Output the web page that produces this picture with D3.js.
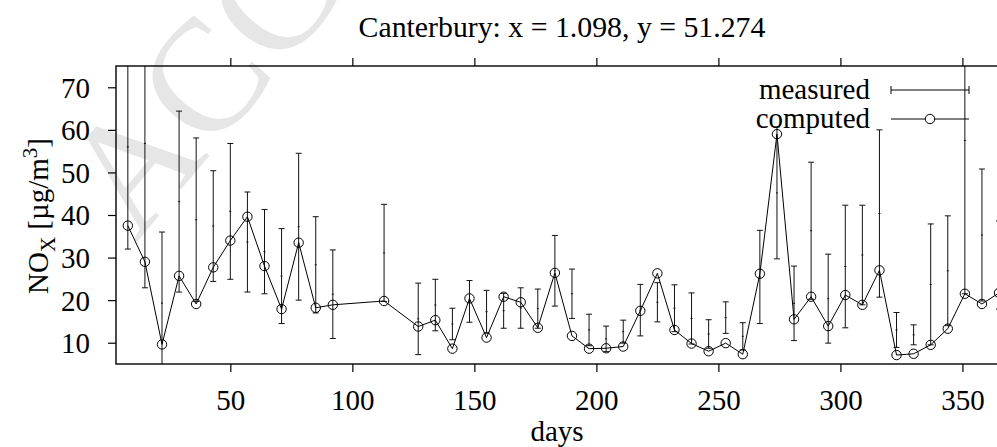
<!DOCTYPE html>
<html>
<head>
<meta charset="utf-8">
<script src="https://cdn.jsdelivr.net/npm/d3@7"></script>
<style>
html, body { margin: 0; padding: 0; background: #fff; overflow: hidden; }
svg { display: block; font-family: "Liberation Serif", "Times New Roman", serif; }
</style>
</head>
<body>
<div id="chart"></div>
<script>
// weekly samples (day of year)
const days = [8, 15, 22, 29, 36, 43, 50, 57, 64, 71, 78, 85, 92, 113, 127, 134, 141,
    148, 155, 162, 169, 176, 183, 190, 197, 204, 211, 218, 225, 232, 239, 246, 253,
    260, 267, 274, 281, 288, 295, 302, 309, 316, 323, 330, 337, 344, 351, 358, 365];

const computed = [37.5, 29.0, 9.6, 25.7, 19.1, 27.7, 34.0, 39.6, 28.0, 17.9, 33.5, 18.2,
    18.9, 19.8, 13.8, 15.3, 8.6, 20.4, 11.2, 20.8, 19.5, 13.5, 26.4, 11.6, 8.6, 8.7, 9.1,
    17.5, 26.3, 13.0, 9.8, 8.0, 9.9, 7.3, 26.2, 59.0, 15.5, 20.8, 13.9, 21.2, 18.9, 27.0,
    7.1, 7.4, 9.5, 13.3, 21.5, 19.1, 21.7];

const measuredLow = [32.0, 22.9, 2.6, 21.9, 19.7, 24.4, 24.9, 21.9, 21.5, 14.5, 20.0, 17.0,
    11.0, 19.7, 7.2, 12.8, 10.7, 14.8, 12.3, 13.4, 13.4, 13.4, 18.6, 15.7, 9.3, 7.9, 9.9,
    11.6, 14.9, 12.6, 9.7, 8.7, 12.2, 8.3, 14.5, 29.7, 10.5, 20.2, 9.9, 13.5, 18.9, 20.7,
    8.9, 9.5, 9.5, 14.0, 21.5, 19.8, 17.9];

const measuredHigh = [80.0, 90.7, 36.0, 64.4, 58.1, 50.4, 56.8, 45.4, 41.3, 36.8, 54.5, 39.6,
    31.8, 42.5, 24.0, 24.9, 18.1, 24.6, 22.3, 21.6, 22.9, 22.6, 35.2, 27.3, 16.7, 13.9, 15.3,
    23.7, 24.1, 23.6, 21.7, 15.4, 19.6, 14.7, 36.4, 60.7, 28.0, 52.4, 30.8, 42.3, 42.3, 60.0,
    17.1, 14.2, 37.9, 39.8, 93.5, 50.8, 38.6];

const xTicks = [50, 100, 150, 200, 250, 300, 350];
const yTicks = [10, 20, 30, 40, 50, 60, 70];
const title = 'Canterbury: x = 1.098, y = 51.274';
const xLabel = 'days';
const legendLabels = ['measured', 'computed'];

const width = 997, height = 447;
const plot = {left: 116, top: 66, right: 1000, bottom: 364};
const fontSize = 29;

const rows = days.map((d, i) => ({
    day: d, computed: computed[i], lo: measuredLow[i], hi: measuredHigh[i],
    mean: (measuredLow[i] + measuredHigh[i]) / 2
}));

const x = d3.scaleLinear().domain([3.15, 365.4]).range([plot.left, plot.right]);
const y = d3.scaleLinear().domain([5, 75]).range([plot.bottom, plot.top]);

const svg = d3.select('#chart').append('svg')
    .attr('width', width)
    .attr('height', height)
    .style('overflow', 'hidden');

svg.append('defs').append('clipPath')
    .attr('id', 'plot-clip')
    .append('rect')
    .attr('x', plot.left)
    .attr('y', plot.top)
    .attr('width', plot.right - plot.left)
    .attr('height', plot.bottom - plot.top);

// faint page watermark behind everything
svg.append('text')
    .attr('transform', 'translate(136,243) rotate(-50)')
    .attr('font-size', 160)
    .attr('fill', '#e6e6e6')
    .text('ACCEPTED MANUSCRIPT');

// title
svg.append('text')
    .attr('x', 562)
    .attr('y', 37)
    .attr('text-anchor', 'middle')
    .attr('font-size', 29.8)
    .text(title);

// axes: ticks pointing outwards, mirrored on top
const yAxis = d3.axisLeft(y).tickValues(yTicks).tickSize(8).tickPadding(18);
const xAxis = d3.axisBottom(x).tickValues(xTicks).tickSize(8).tickPadding(18);
const xTop = d3.axisTop(x).tickValues(xTicks).tickSize(8).tickFormat('');

const gy = svg.append('g').attr('transform', `translate(${plot.left},0)`).call(yAxis);
const gx = svg.append('g').attr('transform', `translate(0,${plot.bottom})`).call(xAxis);
const gt = svg.append('g').attr('transform', `translate(0,${plot.top})`).call(xTop);

[gy, gx, gt].forEach(g => {
    g.select('.domain').remove();
    g.selectAll('.tick line').attr('stroke', '#000').attr('stroke-width', 1.2);
    g.selectAll('.tick text')
        .attr('font-size', fontSize)
        .attr('font-family', '"Liberation Serif", serif')
        .attr('fill', '#000');
});
gy.selectAll('.tick text').attr('dy', '0.34em');
gx.selectAll('.tick text').attr('dy', '0.69em');

// x label
svg.append('text')
    .attr('x', 557)
    .attr('y', 441)
    .attr('text-anchor', 'middle')
    .attr('font-size', fontSize)
    .text(xLabel);

// y label: NO_X [µg/m^3]
const ylab = svg.append('text')
    .attr('transform', 'translate(48,216) rotate(-90)')
    .attr('text-anchor', 'middle')
    .attr('font-size', fontSize);
ylab.append('tspan').text('NO');
ylab.append('tspan').attr('font-size', 21).attr('dy', 7).text('X');
ylab.append('tspan').attr('dy', -7).text(' [µg/m');
ylab.append('tspan').attr('font-size', 21).attr('dy', -11).text('3');
ylab.append('tspan').attr('dy', 11).text(']');

const body = svg.append('g').attr('clip-path', 'url(#plot-clip)');

// measured error bars
const cap = 3;
const bars = body.append('g')
    .attr('stroke', '#111')
    .attr('stroke-width', 1)
    .selectAll('g')
    .data(rows)
    .join('g');

bars.append('line')
    .attr('x1', d => x(d.day)).attr('x2', d => x(d.day))
    .attr('y1', d => y(d.lo)).attr('y2', d => y(d.hi));
bars.append('line')
    .attr('x1', d => x(d.day) - cap).attr('x2', d => x(d.day) + cap)
    .attr('y1', d => y(d.lo)).attr('y2', d => y(d.lo));
bars.append('line')
    .attr('x1', d => x(d.day) - cap).attr('x2', d => x(d.day) + cap)
    .attr('y1', d => y(d.hi)).attr('y2', d => y(d.hi));
// tiny mark at the measured value
bars.append('line')
    .attr('x1', d => x(d.day) - 1).attr('x2', d => x(d.day) + 1)
    .attr('y1', d => y(d.mean)).attr('y2', d => y(d.mean));

// computed line with open circles
const line = d3.line().x(d => x(d.day)).y(d => y(d.computed));
body.append('path')
    .datum(rows)
    .attr('fill', 'none')
    .attr('stroke', '#000')
    .attr('stroke-width', 1)
    .attr('d', line);

body.append('g')
    .selectAll('circle')
    .data(rows)
    .join('circle')
    .attr('cx', d => x(d.day))
    .attr('cy', d => y(d.computed))
    .attr('r', 4.7)
    .attr('fill', 'none')
    .attr('stroke', '#000')
    .attr('stroke-width', 1);

// frame
svg.append('rect')
    .attr('x', plot.left)
    .attr('y', plot.top)
    .attr('width', plot.right - plot.left)
    .attr('height', plot.bottom - plot.top)
    .attr('fill', 'none')
    .attr('stroke', '#000')
    .attr('stroke-width', 1.4);

// legend
const legend = svg.append('g');
const lx1 = 891, lx2 = 969;
legend.selectAll('text')
    .data(legendLabels)
    .join('text')
    .attr('x', 870)
    .attr('y', (d, i) => 99 + i * 29)
    .attr('text-anchor', 'end')
    .attr('font-size', fontSize)
    .text(d => d);

legend.append('line')
    .attr('x1', lx1).attr('x2', lx2).attr('y1', 90).attr('y2', 90)
    .attr('stroke', '#000');
[lx1, lx2].forEach(v => {
    legend.append('line')
        .attr('x1', v).attr('x2', v).attr('y1', 86).attr('y2', 94)
        .attr('stroke', '#000');
});
legend.append('line')
    .attr('x1', lx1).attr('x2', lx2).attr('y1', 119).attr('y2', 119)
    .attr('stroke', '#000');
legend.append('circle')
    .attr('cx', (lx1 + lx2) / 2).attr('cy', 119).attr('r', 4.7)
    .attr('fill', '#fff').attr('stroke', '#000');
</script>
</body>
</html>
